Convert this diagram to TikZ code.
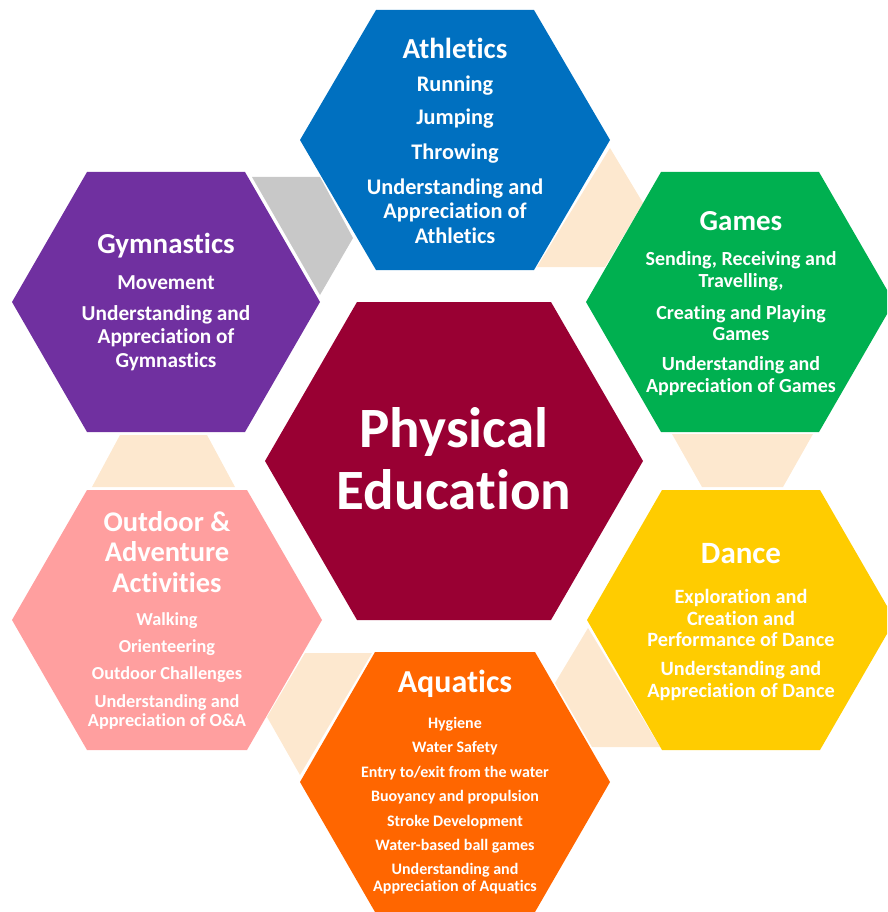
\documentclass[tikz,border=0pt]{standalone}
\usepackage{fontspec}
\setmainfont{Carlito}[Ligatures=NoCommon]
\definecolor{athblue}{HTML}{0070C0}
\definecolor{gympurple}{HTML}{7030A0}
\definecolor{gamegreen}{HTML}{00B050}
\definecolor{danceyellow}{HTML}{FFCC00}
\definecolor{aquaorange}{HTML}{FF6600}
\definecolor{outpink}{HTML}{FF9F9F}
\definecolor{pecrimson}{HTML}{990033}
\definecolor{linkpeach}{HTML}{FDE8CF}
\definecolor{linkgray}{HTML}{C8C8C8}
\newcommand{\fsz}[2]{\fontsize{#1}{#2}\selectfont}
% style, cx, cy, half-width, half top edge, half-height
\newcommand{\hexshape}[6]{%
  \fill[#1] ({#2-#4},#3) -- ({#2-#5},{#3-#6}) -- ({#2+#5},{#3-#6}) --
  ({#2+#4},#3) -- ({#2+#5},{#3+#6}) -- ({#2-#5},{#3+#6}) -- cycle;}
\begin{document}
\begin{tikzpicture}[x=1pt,y=-1pt,
  txt/.style={text=white,align=center,inner sep=0pt},
  link/.style={fill=linkpeach}]
\useasboundingbox (0,0) rectangle (887,912);
\clip (0,0) rectangle (887,912);
% connectors
\fill[linkgray] (252,177) -- (320,177) -- (353,238) -- (320,295) -- cycle;
\fill[link] (610,148) -- (643,203) -- (605,267) -- (537,267) -- cycle;
\fill[link] (672,434) -- (813,434) -- (783,487) -- (702,487) -- cycle;
\fill[link] (588,628) -- (660,747) -- (592,747) -- (555,683) -- cycle;
\fill[link] (305,653) -- (372,653) -- (300,775) -- (267,717) -- cycle;
\fill[link] (120,435) -- (207,435) -- (235,487) -- (92,487) -- cycle;
% hexagons
\hexshape{athblue}{455}{140}{155}{79}{130}
\hexshape{gympurple}{166}{302}{154}{79}{130}
\hexshape{gamegreen}{740}{302}{154}{79}{130}
\hexshape{danceyellow}{741}{620}{154}{79}{130}
\hexshape{outpink}{167}{620}{155}{80}{130}
\hexshape{aquaorange}{455}{782}{155}{80}{130}
\hexshape{pecrimson}{454}{461}{189}{97}{159}
% centre
\node[txt,font=\bfseries\fsz{57}{62}] (pe) at (454,459) {Physical\\Education};
% athletics
\node[txt,font=\bfseries\fsz{29}{30}] (athT) at (455,48) {Athletics};
\node[txt,font=\bfseries\fsz{22.3}{24.5}] (ath1) at (455,86) {Running};
\node[txt,font=\bfseries\fsz{22.3}{24.5}] (ath2) at (455,119) {Jumping};
\node[txt,font=\bfseries\fsz{22.3}{24.5}] (ath3) at (455,154) {Throwing};
\node[txt,font=\bfseries\fsz{22.3}{24.5}] (ath4) at (455,211) {Understanding and\\Appreciation of\\Athletics};
% gymnastics
\node[txt,font=\bfseries\fsz{29}{30}] (gymT) at (166,246) {Gymnastics};
\node[txt,font=\bfseries\fsz{21.3}{23.5}] (gym1) at (166,283) {Movement};
\node[txt,font=\bfseries\fsz{21.3}{23.5}] (gym2) at (166,338) {Understanding and\\Appreciation of\\Gymnastics};
% games
\node[txt,font=\bfseries\fsz{29}{30}] (gamT) at (741,221) {Games};
\node[txt,font=\bfseries\fsz{20}{21.5}] (gam1) at (741,271) {Sending, Receiving and\\Travelling,};
\node[txt,font=\bfseries\fsz{20}{21.5}] (gam2) at (741,323) {Creating and Playing\\Games};
\node[txt,font=\bfseries\fsz{20}{21.5}] (gam3) at (741,376) {Understanding and\\Appreciation of Games};
% dance
\node[txt,font=\bfseries\fsz{31}{30}] (danT) at (741,554) {Dance};
\node[txt,font=\bfseries\fsz{20.3}{21.5}] (dan1) at (741,618) {Exploration and\\Creation and\\Performance of Dance};
\node[txt,font=\bfseries\fsz{20.3}{21.5}] (dan2) at (741,681) {Understanding and\\Appreciation of Dance};
% outdoor
\node[txt,font=\bfseries\fsz{28.5}{30.5}] (outT) at (167,552) {Outdoor \&\\Adventure\\Activities};
\node[txt,font=\bfseries\fsz{18.3}{19.5}] (out1) at (167,621) {Walking};
\node[txt,font=\bfseries\fsz{18.3}{19.5}] (out2) at (167,648) {Orienteering};
\node[txt,font=\bfseries\fsz{18.3}{19.5}] (out3) at (167,675) {Outdoor Challenges};
\node[txt,font=\bfseries\fsz{18.3}{19.5}] (out4) at (167,712) {Understanding and\\Appreciation of O\&A};
% aquatics
\node[txt,font=\bfseries\fsz{32}{30}] (aquT) at (455,684) {Aquatics};
\node[txt,font=\bfseries\fsz{16}{17}] (aqu1) at (455,724) {Hygiene};
\node[txt,font=\bfseries\fsz{16}{17}] (aqu2) at (455,748) {Water Safety};
\node[txt,font=\bfseries\fsz{16}{17}] (aqu3) at (455,773) {Entry to/exit from the water};
\node[txt,font=\bfseries\fsz{16}{17}] (aqu4) at (455,797) {Buoyancy and propulsion};
\node[txt,font=\bfseries\fsz{16}{17}] (aqu5) at (455,822) {Stroke Development};
\node[txt,font=\bfseries\fsz{16}{17}] (aqu6) at (455,846) {Water-based ball games};
\node[txt,font=\bfseries\fsz{16}{17}] (aqu7) at (455,879) {Understanding and\\Appreciation of Aquatics};
\end{tikzpicture}
\end{document}
